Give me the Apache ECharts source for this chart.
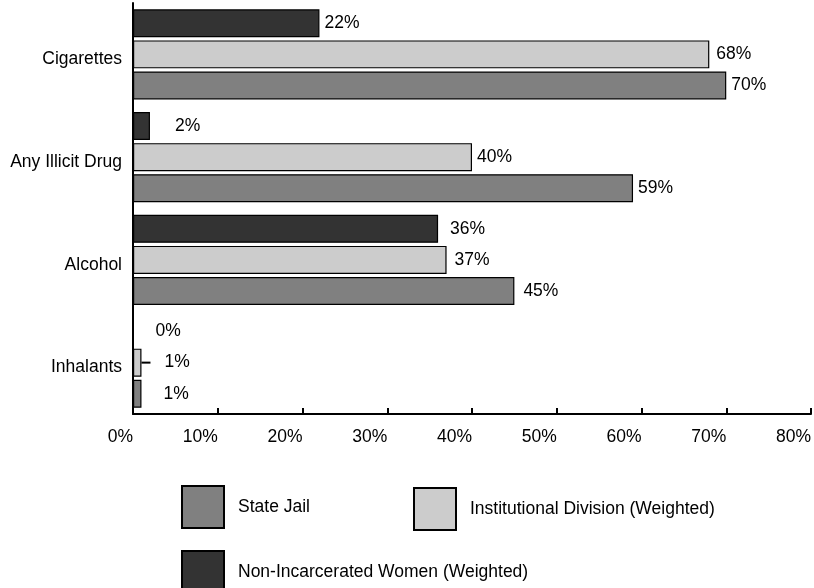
<!DOCTYPE html>
<html>
<head>
<meta charset="utf-8">
<script src="https://cdn.jsdelivr.net/npm/echarts@6/dist/echarts.min.js"></script>
<style>
  html, body { margin: 0; padding: 0; background: #fff; }
  #chart { width: 814px; height: 588px; }
</style>
</head>
<body>
<div id="chart"></div>
<script>
// Substance use categories, top to bottom
const categories = ['Cigarettes', 'Any Illicit Drug', 'Alcohol', 'Inhalants'];

// Percent reporting use, per group
const nonIncarcerated = [22, 2, 36, 0];
const institutional = [68, 40, 37, 1];
const stateJail = [70, 59, 45, 1];

const seriesNames = {
  state: 'State Jail',
  inst: 'Institutional Division (Weighted)',
  nonInc: 'Non-Incarcerated Women (Weighted)'
};

const xTicks = [0, 10, 20, 30, 40, 50, 60, 70, 80];

// label spacing from bar ends, per category
const gapNonInc = [5, 25, 12, 22];
const gapInst = [7, 5, 8, 0];
const gapState = [5, 5, 9, 22];

const FONT = '"Liberation Sans", Arial, Helvetica, sans-serif';
const FS = 17.5;

function buildData(values, gaps, dashIndex) {
  return values.map((v, i) => {
    const item = { value: v, label: { distance: gaps[i] } };
    if (i === dashIndex) {
      item.label.formatter = '{dash|}{t|' + v + '%}';
    }
    return item;
  });
}

const baseLabel = {
  show: true,
  position: 'right',
  color: '#000',
  fontFamily: FONT,
  fontSize: FS,
  formatter: p => p.value + '%',
  rich: {
    dash: { width: 9, height: 2, backgroundColor: '#000' },
    t: { padding: [0, 0, 0, 14], fontFamily: FONT, fontSize: FS, color: '#000' }
  }
};

function barSeries(name, values, gaps, color, dashIndex) {
  return {
    name: name,
    type: 'bar',
    barWidth: 28,
    barGap: '11%',
    data: buildData(values, gaps, dashIndex),
    itemStyle: { color: color, borderColor: '#000', borderWidth: 1.2 },
    label: baseLabel,
    emphasis: { disabled: true },
    animation: false
  };
}

const legendText = { fontFamily: FONT, fontSize: FS, color: '#000', padding: [0, 0, 0, 9] };
function legendAt(name, left, top) {
  return {
    data: [name],
    left: left,
    top: top,
    padding: 0,
    orient: 'horizontal',
    itemWidth: 42,
    itemHeight: 42,
    icon: 'rect',
    selectedMode: false,
    textStyle: legendText
  };
}

const chart = echarts.init(document.getElementById('chart'), null, { renderer: 'canvas' });
chart.setOption({
  backgroundColor: '#fff',
  animation: false,
  grid: { left: 133, right: 3, top: 3, bottom: 174, containLabel: false },
  xAxis: {
    type: 'value',
    min: xTicks[0],
    max: xTicks[xTicks.length - 1],
    interval: 10,
    splitLine: { show: false },
    axisLine: { show: true, lineStyle: { color: '#000', width: 2 } },
    axisTick: { show: true, inside: true, length: 6, lineStyle: { color: '#000', width: 2 } },
    axisLabel: {
      formatter: v => v + '%',
      color: '#000',
      fontFamily: FONT,
      fontSize: FS,
      margin: 14,
      align: 'right'
    }
  },
  yAxis: {
    type: 'category',
    data: categories,
    inverse: true,
    axisLine: { show: true, lineStyle: { color: '#000', width: 2 } },
    axisTick: { show: false },
    axisLabel: {
      color: '#000',
      margin: 11,
      formatter: v => '{c|' + v + '}',
      rich: {
        c: { fontFamily: FONT, fontSize: FS, color: '#000', padding: [10, 0, 0, 0] }
      }
    }
  },
  legend: [
    legendAt(seriesNames.state, 181, 485),
    legendAt(seriesNames.inst, 413, 487),
    legendAt(seriesNames.nonInc, 181, 550)
  ],
  series: [
    barSeries(seriesNames.nonInc, nonIncarcerated, gapNonInc, '#333333', -1),
    barSeries(seriesNames.inst, institutional, gapInst, '#cccccc', 3),
    barSeries(seriesNames.state, stateJail, gapState, '#808080', -1)
  ]
});
</script>
</body>
</html>
